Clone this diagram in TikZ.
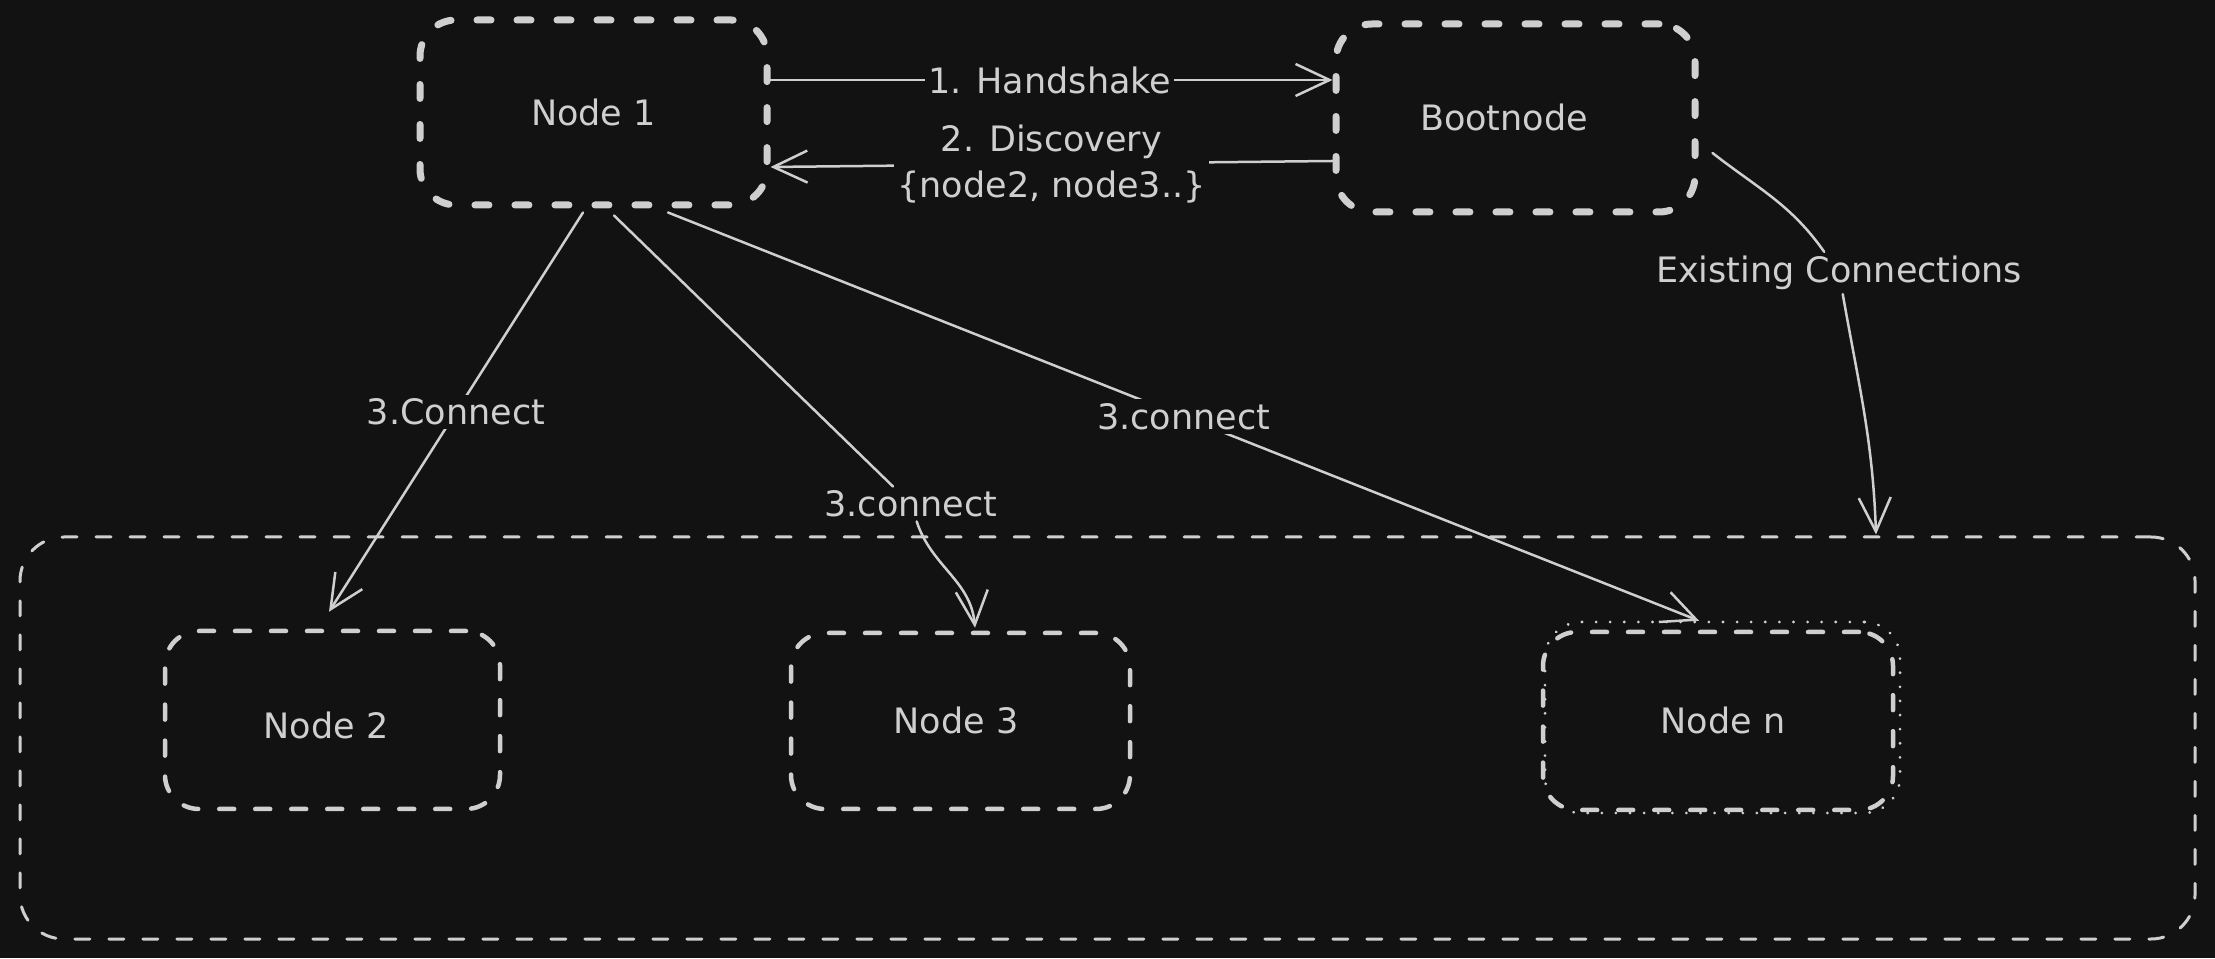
\documentclass[tikz,border=0pt]{standalone}
\usepackage{fontspec}
\setmainfont{DejaVu Sans}
\usetikzlibrary{arrows.meta,calc}
\definecolor{bg}{HTML}{121212}
\definecolor{ink}{HTML}{CFCFCF}
\tikzset{
  x=1pt,y=1pt,
  every node/.style={text=ink,font=\fontsize{35}{46}\selectfont},
  topbox/.style={draw=ink,line width=7pt,dash pattern=on 14pt off 26pt,line cap=round,rounded corners=36pt,inner sep=0pt},
  botbox/.style={draw=ink,line width=4.5pt,dash pattern=on 15pt off 21pt,line cap=round,rounded corners=34pt,inner sep=0pt},
  contbox/.style={draw=ink,line width=3pt,dash pattern=on 15pt off 19pt,line cap=round,rounded corners=44pt,inner sep=0pt},
  dotbox/.style={draw=ink,line width=3pt,dash pattern=on 0.1pt off 14pt,line cap=round,rounded corners=36pt,inner sep=0pt},
  conn/.style={draw=ink,line width=2.5pt,line cap=round},
  arr/.style={conn,-{Straight Barb[length=34pt,width=32pt,line width=2.5pt]}},
  lbl/.style={fill=bg,inner xsep=3pt,inner ysep=4pt}
}
\begin{document}
\begin{tikzpicture}
\fill[bg] (0,0) rectangle (2215,958);
\useasboundingbox (0,0) rectangle (2215,958);

% boxes
\node[topbox,minimum width=347pt,minimum height=185pt] (n1) at (593.5,845.5) {Node 1};
\node[topbox,minimum width=359pt,minimum height=188pt] (boot) at (1515.5,840) {};
\node at (1504,841) (boottext) {Bootnode};
\node[contbox,minimum width=2175pt,minimum height=402pt] (cont) at (1107.5,220) {};
\node[botbox,minimum width=335pt,minimum height=178pt] (n2) at (332.5,238) {};
\node at (326,233) (n2text) {Node 2};
\node[botbox,minimum width=339pt,minimum height=176pt] (n3) at (960.5,237) {};
\node at (956,238) (n3text) {Node 3};
\node[botbox,minimum width=350pt,minimum height=178pt] (nn) at (1718,237) {};
\node[dotbox,minimum width=355pt,minimum height=191pt] (nndot) at (1722.5,240.5) {};
\node at (1723,238) (nntext) {Node n};

% labels that break curves
\node[lbl] (ec) at (1839,685) {Existing Connections};
\node[lbl] (l3b) at (911,454) {3.connect};

% handshake / discovery
\draw[arr] ([yshift=32.5pt]n1.east) -- node[lbl,pos=0.497]{1. Handshake} ([yshift=38pt]boot.west);
\draw[arr] ([yshift=-43pt]boot.west) -- node[lbl,align=center]{2. Discovery\\\{node2, node3..\}} ([yshift=-54.5pt]n1.east);

% existing connections
\coordinate (ecstart) at ([xshift=14pt,yshift=-35pt]boot.east);
\coordinate (ecend) at ([xshift=768.5pt,yshift=1pt]cont.north);
\draw[conn] (ecstart) to[out=-38,in=125] (ec);
\draw[arr] (ec) to[out=-80,in=92] (ecend);

% connects from node 1
\draw[arr] ([xshift=-10.5pt,yshift=-4pt]n1.south) -- node[lbl]{3.Connect} ([xshift=-3.5pt,yshift=17pt]n2.north);
\draw[conn] ([xshift=20.5pt,yshift=-7pt]n1.south) -- (l3b);
\draw[arr] (l3b) to[out=-72,in=95] ([xshift=14.5pt,yshift=3pt]n3.north);
\draw[arr] ([xshift=74.5pt,yshift=-4pt]n1.south) -- node[lbl]{3.connect} ([xshift=-19pt,yshift=9pt]nn.north);
\end{tikzpicture}
\end{document}
